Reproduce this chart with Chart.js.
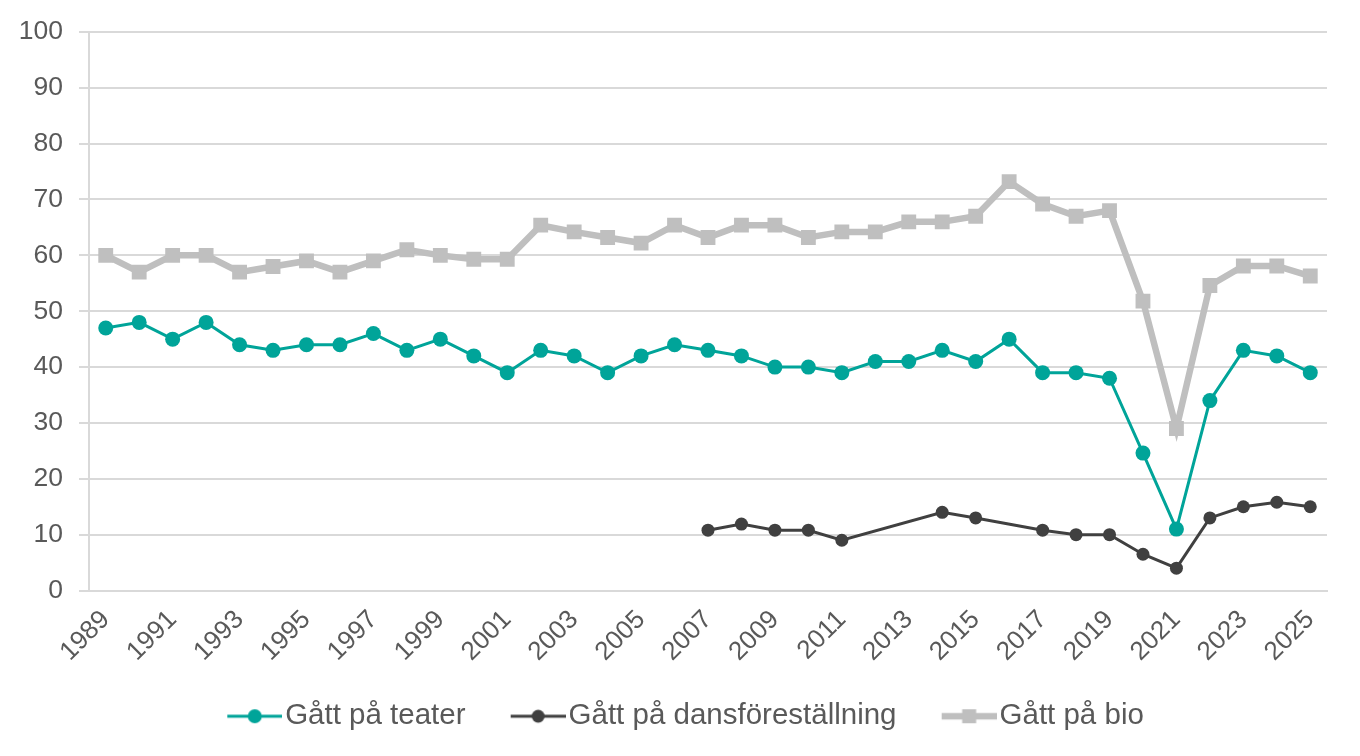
<!DOCTYPE html>
<html><head><meta charset="utf-8">
<script src="https://cdn.jsdelivr.net/npm/chart.js@4/dist/chart.umd.min.js"></script>
<style>html,body{margin:0;padding:0;background:#fff}</style>
</head><body>
<canvas id="c" width="1360" height="756" style="display:block;width:1360px;height:756px"></canvas>
<script>
const years = ['1989','1990','1991','1992','1993','1994','1995','1996','1997','1998','1999','2000','2001','2002','2003','2004','2005','2006','2007','2008','2009','2010','2011','2012','2013','2014','2015','2016','2017','2018','2019','2020','2021','2022','2023','2024','2025'];
const teater = [47,48,45,48,44,43,44,44,46,43,45,42,39,43,42,39,42,44,43,42,40,40,39,41,41,43,41,45,39,39,38,24.6,11,34,43,42,39];
const dans = [null,null,null,null,null,null,null,null,null,null,null,null,null,null,null,null,null,null,10.8,11.9,10.8,10.8,9,null,null,14,13,null,10.8,10,10,6.5,4,13,15,15.8,15];
const bio = [60,57,60,60,57,58,59,57,59,61,60,59.3,59.3,65.4,64.2,63.2,62.2,65.4,63.2,65.4,65.4,63.2,64.2,64.2,66,66,67,73.2,69.2,67,68,51.8,29,54.6,58.1,58.1,56.3];
const seriesNames = ['Gått på teater','Gått på dansföreställning','Gått på bio'];
const colors = ['#00a499','#404040','#bfbfbf'];

const LEG_FONT = 29.5, LEG_PAD = 20;
const BOXW = 103 - LEG_PAD - LEG_FONT / 2;
const ICONW = Math.round(BOXW + LEG_FONT - 6);

function legendIcon(color, lineW, kind, size) {
  const W = ICONW, H = 18, symW = 55;
  const cv = document.createElement('canvas');
  cv.width = W; cv.height = H;
  const g = cv.getContext('2d');
  const x0 = W - symW, cy = H / 2, cx = x0 + symW / 2;
  g.strokeStyle = color; g.lineWidth = lineW;
  g.beginPath(); g.moveTo(x0, cy); g.lineTo(W, cy); g.stroke();
  g.fillStyle = color;
  if (kind === 'rect') { g.fillRect(cx - size / 2, cy - size / 2, size, size); }
  else { g.beginPath(); g.arc(cx, cy, size / 2, 0, Math.PI * 2); g.fill(); }
  return cv;
}
const icons = [legendIcon(colors[0], 3, 'circle', 14), legendIcon(colors[1], 3, 'circle', 13), legendIcon(colors[2], 6.5, 'rect', 14)];
const FONT = 'Liberation Sans, Arial, sans-serif';

new Chart(document.getElementById('c'), {
  type: 'line',
  data: {
    labels: years,
    datasets: [
      {label: seriesNames[0], data: teater, borderColor: colors[0], backgroundColor: colors[0], borderWidth: 3,
       pointRadius: 7.5, pointHoverRadius: 7.5, pointBorderWidth: 0, pointBackgroundColor: colors[0], tension: 0},
      {label: seriesNames[1], data: dans, borderColor: colors[1], backgroundColor: colors[1], borderWidth: 3,
       pointRadius: 6.5, pointHoverRadius: 6.5, pointBorderWidth: 0, pointBackgroundColor: colors[1], spanGaps: true, tension: 0},
      {label: seriesNames[2], data: bio, borderColor: colors[2], backgroundColor: colors[2], borderWidth: 6.5,
       pointStyle: 'rect', pointRadius: 10.5, pointHoverRadius: 10.5, pointBorderWidth: 0, pointBackgroundColor: colors[2], tension: 0}
    ]
  },
  options: {
    responsive: false,
    animation: false,
    layout: {padding: {top: 27, left: 19, right: 33, bottom: 15}},
    scales: {
      x: {
        offset: true,
        grid: {display: false, drawTicks: false},
        border: {display: true, color: '#d9d9d9', width: 2},
        afterFit: (s) => { s.paddingLeft = 0; s.paddingRight = 0; },
        ticks: {autoSkip: false, maxRotation: 45, minRotation: 45, padding: 14,
                font: {family: FONT, size: 26}, color: '#595959',
                callback: (v, i) => (i % 2 === 0 ? years[i] : '')}
      },
      y: {
        min: 0, max: 100,
        afterFit: (s) => { s.width = 70; },
        ticks: {stepSize: 10, padding: 16, font: {family: FONT, size: 26.5}, color: '#595959'},
        grid: {color: '#d9d9d9', lineWidth: 2, tickLength: 10},
        border: {display: true, color: '#d9d9d9', width: 2}
      }
    },
    plugins: {
      tooltip: {enabled: false},
      legend: {
        position: 'bottom',
        labels: {
          usePointStyle: true, pointStyleWidth: BOXW, padding: LEG_PAD,
          font: {family: FONT, size: LEG_FONT}, color: '#595959',
          generateLabels: (chart) => {
            const items = Chart.defaults.plugins.legend.labels.generateLabels(chart);
            items.forEach((it, i) => { it.pointStyle = icons[i]; });
            return items;
          }
        }
      }
    }
  }
});
</script>
</body></html>
